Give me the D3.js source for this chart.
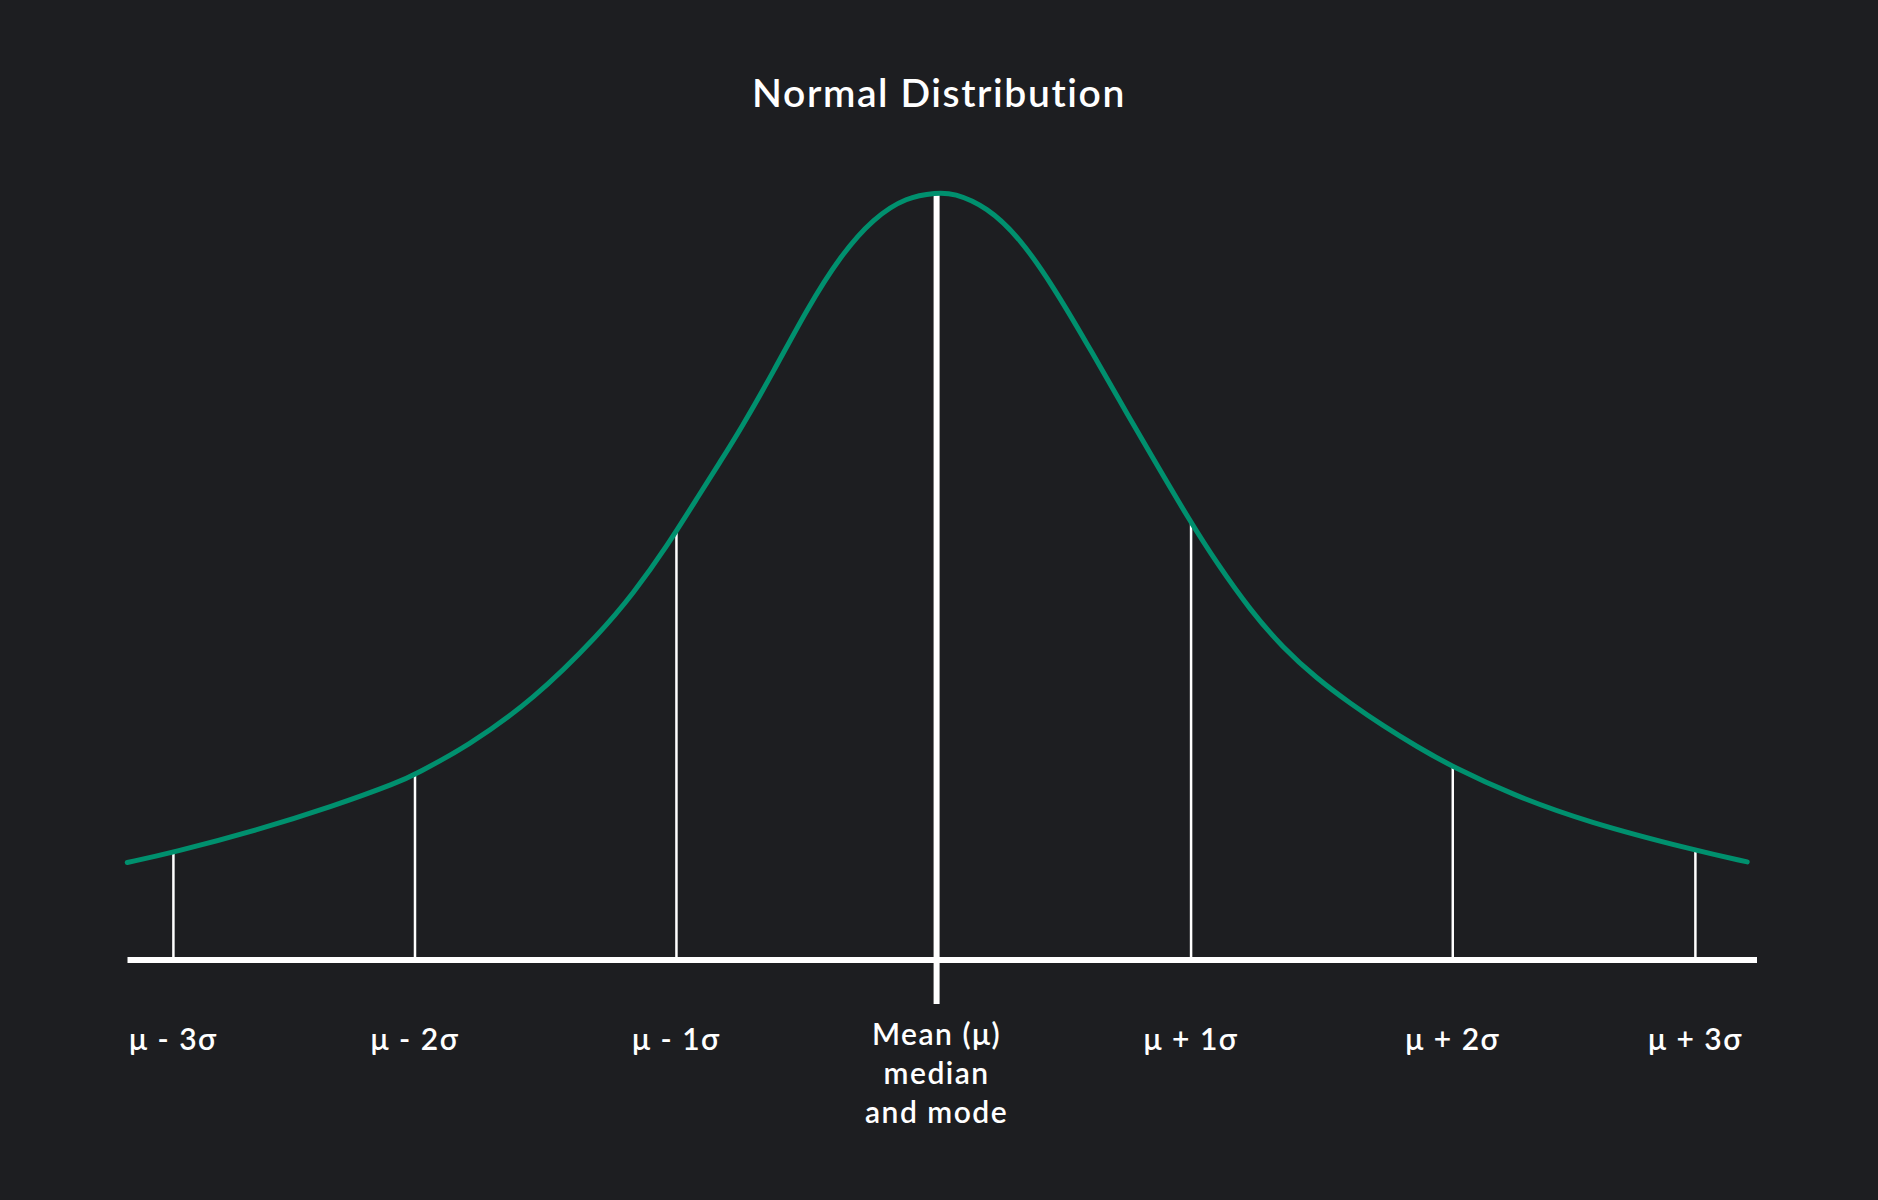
<!DOCTYPE html>
<html>
<head>
<meta charset="utf-8">
<script src="https://cdn.jsdelivr.net/npm/d3@7"></script>
<style>
  html, body { margin: 0; padding: 0; background: #1d1e21; }
  svg { display: block; }
  text { font-family: Lato, "Open Sans", sans-serif; fill: #ffffff; }
</style>
</head>
<body>
<svg class="chart"></svg>
<script>
// curve, x in sigma units, y as density
const curveX = [-3.139, -2.966, -2.632, -2.345, -2.081, -2.023, -1.822, -1.564, -1.305, -1.176,
    -1.047, -0.917, -0.840, -0.762, -0.633, -0.503, -0.374, -0.245, -0.116, 0,
    0.065, 0.195, 0.324, 0.453, 0.583, 0.712, 0.828, 0.987, 1.087, 1.216,
    1.345, 1.474, 1.604, 1.733, 1.862, 2.002, 2.236, 2.523, 2.943, 3.144];
const curveY = [0.0506, 0.0556, 0.0676, 0.0797, 0.0927, 0.0966, 0.1110, 0.1354, 0.1702, 0.1910,
    0.2153, 0.2432, 0.2595, 0.2762, 0.3065, 0.3393, 0.3670, 0.3868, 0.3978, 0.4000,
    0.3999, 0.3927, 0.3762, 0.3510, 0.3214, 0.2910, 0.2641, 0.2277, 0.2068, 0.1823,
    0.1623, 0.1467, 0.1336, 0.1218, 0.1111, 0.1004, 0.0858, 0.0717, 0.0569, 0.0509];

// sigma markers
const markerX = [-2.960, -2.023, -1.009, 0, 0.987, 2.002, 2.943];
const markerY = [0.0556, 0.0966, 0.2233, 0.4000, 0.2277, 0.1004, 0.0569];
const markerLabels = [["μ - 3σ"], ["μ - 2σ"], ["μ - 1σ"], ["Mean (μ)", "median", "and mode"],
    ["μ + 1σ"], ["μ + 2σ"], ["μ + 3σ"]];

const title = "Normal Distribution";

let width = 1878, height = 1200;
let margin = {top: 192.7, right: 121.5, bottom: 240.5, left: 127};

let svg = d3.select('svg.chart')
    .attr('width', width)
    .attr('height', height);

svg.append('rect')
    .attr('width', width).attr('height', height)
    .attr('fill', '#1d1e21');

let x = d3.scaleLinear()
    .domain([-3.14, 3.18])
    .range([margin.left, width - margin.right]);

let y = d3.scaleLinear()
    .domain([0, 0.4])
    .range([height - margin.bottom, margin.top]);

let data = curveX.map((d, i) => ({x: d, y: curveY[i]}));
let markers = markerX.map((d, i) => ({x: d, y: markerY[i], label: markerLabels[i]}));

//title
svg.append('text')
    .attr('x', 939)
    .attr('y', 106.7)
    .attr('text-anchor', 'middle')
    .style('font-size', '39px')
    .style('font-weight', 600)
    .style('letter-spacing', '1.6px')
    .text(title);

//vertical lines from axis up to the curve
svg.append('g')
    .selectAll('line')
    .data(markers)
    .enter().append('line')
    .attr('x1', d => x(d.x))
    .attr('x2', d => x(d.x))
    .attr('y1', d => d.x === 0 ? y(0) + 44.5 : y(0))
    .attr('y2', d => y(d.y))
    .attr('stroke', '#ffffff')
    .attr('stroke-width', d => d.x === 0 ? 6 : 2.5);

//x axis, only the base line
let axis = d3.axisBottom(x).tickValues([]).tickSizeOuter(0);
let gAxis = svg.append('g')
    .attr('transform', `translate(0, ${y(0)})`)
    .call(axis);
gAxis.select('.domain')
    .attr('stroke', '#ffffff')
    .attr('stroke-width', 6);

//curve, smoothed through the read points
let line = d3.line()
    .x(d => x(d.x))
    .y(d => y(d.y))
    .curve(d3.curveBasis);

svg.append('path')
    .datum(data)
    .attr('d', line)
    .attr('fill', 'none')
    .attr('stroke', '#00906e')
    .attr('stroke-width', 5)
    .attr('stroke-linecap', 'round');

//labels under the axis
let labels = svg.append('g')
    .selectAll('text')
    .data(markers)
    .enter().append('text')
    .attr('text-anchor', 'middle')
    .attr('x', d => x(d.x))
    .attr('y', d => d.label.length > 1 ? y(0) + 85.5 : y(0) + 90.5)
    .style('font-size', '30px')
    .style('font-weight', 600)
    .style('letter-spacing', '1.5px');

labels.selectAll('tspan')
    .data(d => d.label.map(t => ({t: t, x: x(d.x)})))
    .enter().append('tspan')
    .attr('x', d => d.x)
    .attr('dy', (d, i) => i === 0 ? 0 : 38.8)
    .text(d => d.t);
</script>
</body>
</html>
